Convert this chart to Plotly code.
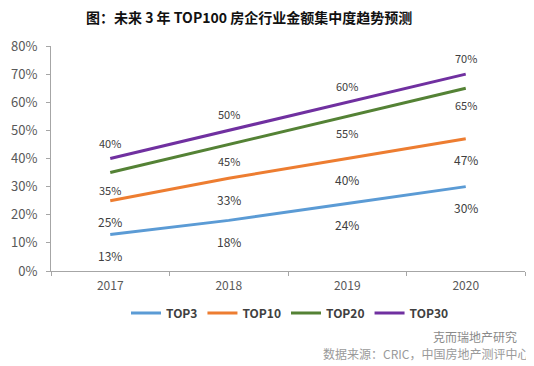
import plotly.graph_objects as go

years = ["2017", "2018", "2019", "2020"]
series_names = ["TOP3", "TOP10", "TOP20", "TOP30"]
top3 = [0.13, 0.18, 0.24, 0.30]
top10 = [0.25, 0.33, 0.40, 0.47]
top20 = [0.35, 0.45, 0.55, 0.65]
top30 = [0.40, 0.50, 0.60, 0.70]
colors = ["#5B9BD5", "#ED7D31", "#548235", "#7030A0"]

title_text = "图：未来 3 年 TOP100 房企行业金额集中度趋势预测"
source_text = "数据来源：CRIC，中国房地产测评中心"
brand_text = "克而瑞地产研究"

font_main = "Noto Sans CJK SC, Open Sans, sans-serif"

# page has an 8px body margin; figure placed at (8,8)
W, H = 526, 358
L, R, T, B = 43, 9, 38, 95
plot_w = W - L - R
plot_h = H - T - B

fig = go.Figure()
all_series = [top3, top10, top20, top30]
for name, vals, col in zip(series_names, all_series, colors):
    fig.add_trace(go.Scatter(x=years, y=vals, mode="lines", name="<b>" + name + "</b>",
                             line=dict(color=col, width=3)))

annotations = []
label_cfg = {
    "TOP3": (-21, 12),
    "TOP10": (-21, 12),
    "TOP20": (-17, 11),
    "TOP30": (16, 11),
}
for name, vals in zip(series_names, all_series):
    shift, size = label_cfg[name]
    for i, v in enumerate(vals):
        annotations.append(dict(x=i, y=v, xref="x", yref="y",
                                text=f"{round(v*100)}%", showarrow=False,
                                yshift=shift,
                                font=dict(size=size, color="#404040", family=font_main)))

def px_x(xpix):
    return (xpix - 8 - L) / plot_w

def px_y(ypix):
    # convert page y pixel to paper y
    return 1 - (ypix - 8 - T) / plot_h

annotations.append(dict(x=px_x(249), y=px_y(17), xref="paper", yref="paper", yanchor="middle",
                        text="<b>" + title_text + "</b>", showarrow=False,
                        font=dict(size=14, color="#111111", family=font_main)))
annotations.append(dict(x=px_x(519), y=px_y(336), xref="paper", yref="paper", xanchor="right",
                        yanchor="middle", text=brand_text, showarrow=False,
                        font=dict(size=12, color="#8a8a8a", family=font_main)))
annotations.append(dict(x=px_x(531), y=px_y(353), xref="paper", yref="paper", xanchor="right",
                        yanchor="middle", text=source_text, showarrow=False,
                        font=dict(size=12, color="#9a9a9a", family=font_main)))

fig.update_layout(
    width=W, height=H,
    margin=dict(l=L, r=R, t=T, b=B, autoexpand=False),
    paper_bgcolor="white", plot_bgcolor="white",
    showlegend=True,
    legend=dict(orientation="h", x=px_x(290), xanchor="center", y=px_y(313), yanchor="middle",
                font=dict(size=12, color="#404040", family=font_main),
                traceorder="normal"),
    annotations=annotations,
)
fig.update_xaxes(type="category", range=[-0.5, 3.5], showline=True, linecolor="#A6A6A6",
                 linewidth=1, ticks="outside", tickson="boundaries", ticklen=4,
                 tickcolor="#A6A6A6", showgrid=False, ticklabelstandoff=4,
                 tickfont=dict(size=12, color="#595959", family=font_main))
fig.update_yaxes(range=[0, 0.8], dtick=0.1, tickformat=".0%", showline=True,
                 linecolor="#A6A6A6", linewidth=1, ticks="outside", ticklen=4,
                 tickcolor="#A6A6A6", showgrid=False, zeroline=False, ticklabelstandoff=6,
                 tickfont=dict(size=13, color="#595959", family=font_main))

fig.write_html("out.html")
